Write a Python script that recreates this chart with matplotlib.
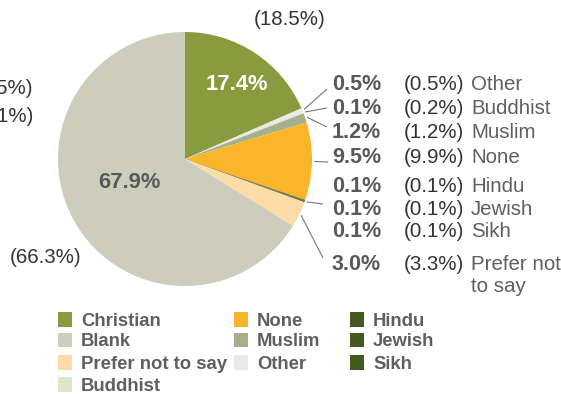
import numpy as np
import matplotlib.pyplot as plt
from matplotlib.patches import Rectangle

plt.rcParams['font.family'] = ['Liberation Sans', 'DejaVu Sans']

# slices clockwise from 12 o'clock
categories = ["Christian", "Other", "Buddhist", "Muslim", "None",
              "Hindu", "Jewish", "Sikh", "Prefer not to say", "Blank"]
current = [17.4, 0.5, 0.1, 1.2, 9.5, 0.1, 0.1, 0.1, 3.0, 67.9]
previous = [18.5, 0.5, 0.2, 1.2, 9.9, 0.1, 0.1, 0.1, 3.3, 66.3]
colors = ["#8a9a3f", "#e9e9eb", "#dfe5c8", "#a4af8b", "#fbb52a",
          "#44591f", "#44591f", "#44591f", "#fedca7", "#cccdbd"]

# legend, filled column by column
legend_order = ["Christian", "Blank", "Prefer not to say", "Buddhist",
                "None", "Muslim", "Other",
                "Hindu", "Jewish", "Sikh"]
legend_cols = [4, 3, 3]

# labels listed down the right-hand side
side_labels = ["Other", "Buddhist", "Muslim", "None", "Hindu",
               "Jewish", "Sikh", "Prefer not to say"]
side_names = ["Other", "Buddhist", "Muslim", "None", "Hindu",
              "Jewish", "Sikh", "Prefer not\nto say"]
side_base = [90, 114, 138, 163, 192, 215, 237, 270]
leaders = {"Other": (327, 89), "Buddhist": (327, 108), "Muslim": (327, 127),
           "None": (328, 162), "Jewish": (323, 204),
           "Prefer not to say": (323, 258)}

GREY = "#59595b"
DARK = "#333333"
NAME = "#5e5f61"

fig = plt.figure(figsize=(5.61, 3.94), dpi=100)
ax = fig.add_axes([0, 0, 1, 1])

cx, cy, r = 185, 159, 127
ax.pie(previous, colors=colors, startangle=-90, counterclock=True,
       center=(cx, cy), radius=r, wedgeprops=dict(linewidth=0),
       frame=True)
ax.set_xlim(0, 561)
ax.set_ylim(394, 0)
ax.set_aspect('equal')
ax.axis('off')

# mid angle of each slice, measured clockwise from the top
fr = np.array(previous) / np.sum(previous)
mids = (np.cumsum(fr) - fr / 2) * 2 * np.pi

for lab, name, yb in zip(side_labels, side_names, side_base):
    i = categories.index(lab)
    ax.text(332, yb, f"{current[i]:.1f}%", fontsize=15.5, fontweight='bold',
            color=GREY, ha='left', va='baseline')
    ax.text(404, yb, f"({previous[i]:.1f}%)", fontsize=14.8,
            color=DARK, ha='left', va='baseline')
    for k, line in enumerate(name.split("\n")):
        ax.text(471, yb + 22 * k, line, fontsize=14.8, color=NAME,
                ha='left', va='baseline')
    if lab in leaders:
        a = mids[i]
        x0 = cx + (r + 2) * np.sin(a)
        y0 = cy - (r + 2) * np.cos(a)
        x1, y1 = leaders[lab]
        ax.plot([x0, x1], [y0, y1], color="#77787a", lw=0.8,
                solid_capstyle='butt')

# labels on and around the two big slices
ic = categories.index("Christian")
ib = categories.index("Blank")
ax.text(236.5, 90, f"{current[ic]:.1f}%", fontsize=15.8, fontweight='bold',
        color="white", ha='center', va='baseline')
ax.text(129.5, 188, f"{current[ib]:.1f}%", fontsize=15.8, fontweight='bold',
        color=GREY, ha='center', va='baseline')
ax.text(289.5, 25, f"({previous[ic]:.1f}%)", fontsize=14.8, color=DARK,
        ha='center', va='baseline')
ax.text(46, 263, f"({previous[ib]:.1f}%)", fontsize=14.8, color=DARK,
        ha='center', va='baseline')
# labels running off the left edge
ax.text(33, 94, "(0.5%)", fontsize=14.8, color=DARK, ha='right', va='baseline')
ax.text(34, 122, "(0.1%)", fontsize=14.8, color=DARK, ha='right', va='baseline')

# legend
col_x = [58, 234, 350]
row_y = [312, 332.5, 355, 377]
k = 0
for c, n in enumerate(legend_cols):
    for j in range(n):
        name = legend_order[k]
        col = colors[categories.index(name)]
        ax.add_patch(Rectangle((col_x[c], row_y[j]), 14.5, 14.5,
                               facecolor=col, edgecolor='none'))
        ax.text(col_x[c] + 23, row_y[j] + 14, name, fontsize=13.3,
                fontweight='bold', color=NAME, ha='left', va='baseline')
        k += 1

fig.savefig("out.png", dpi=100)
